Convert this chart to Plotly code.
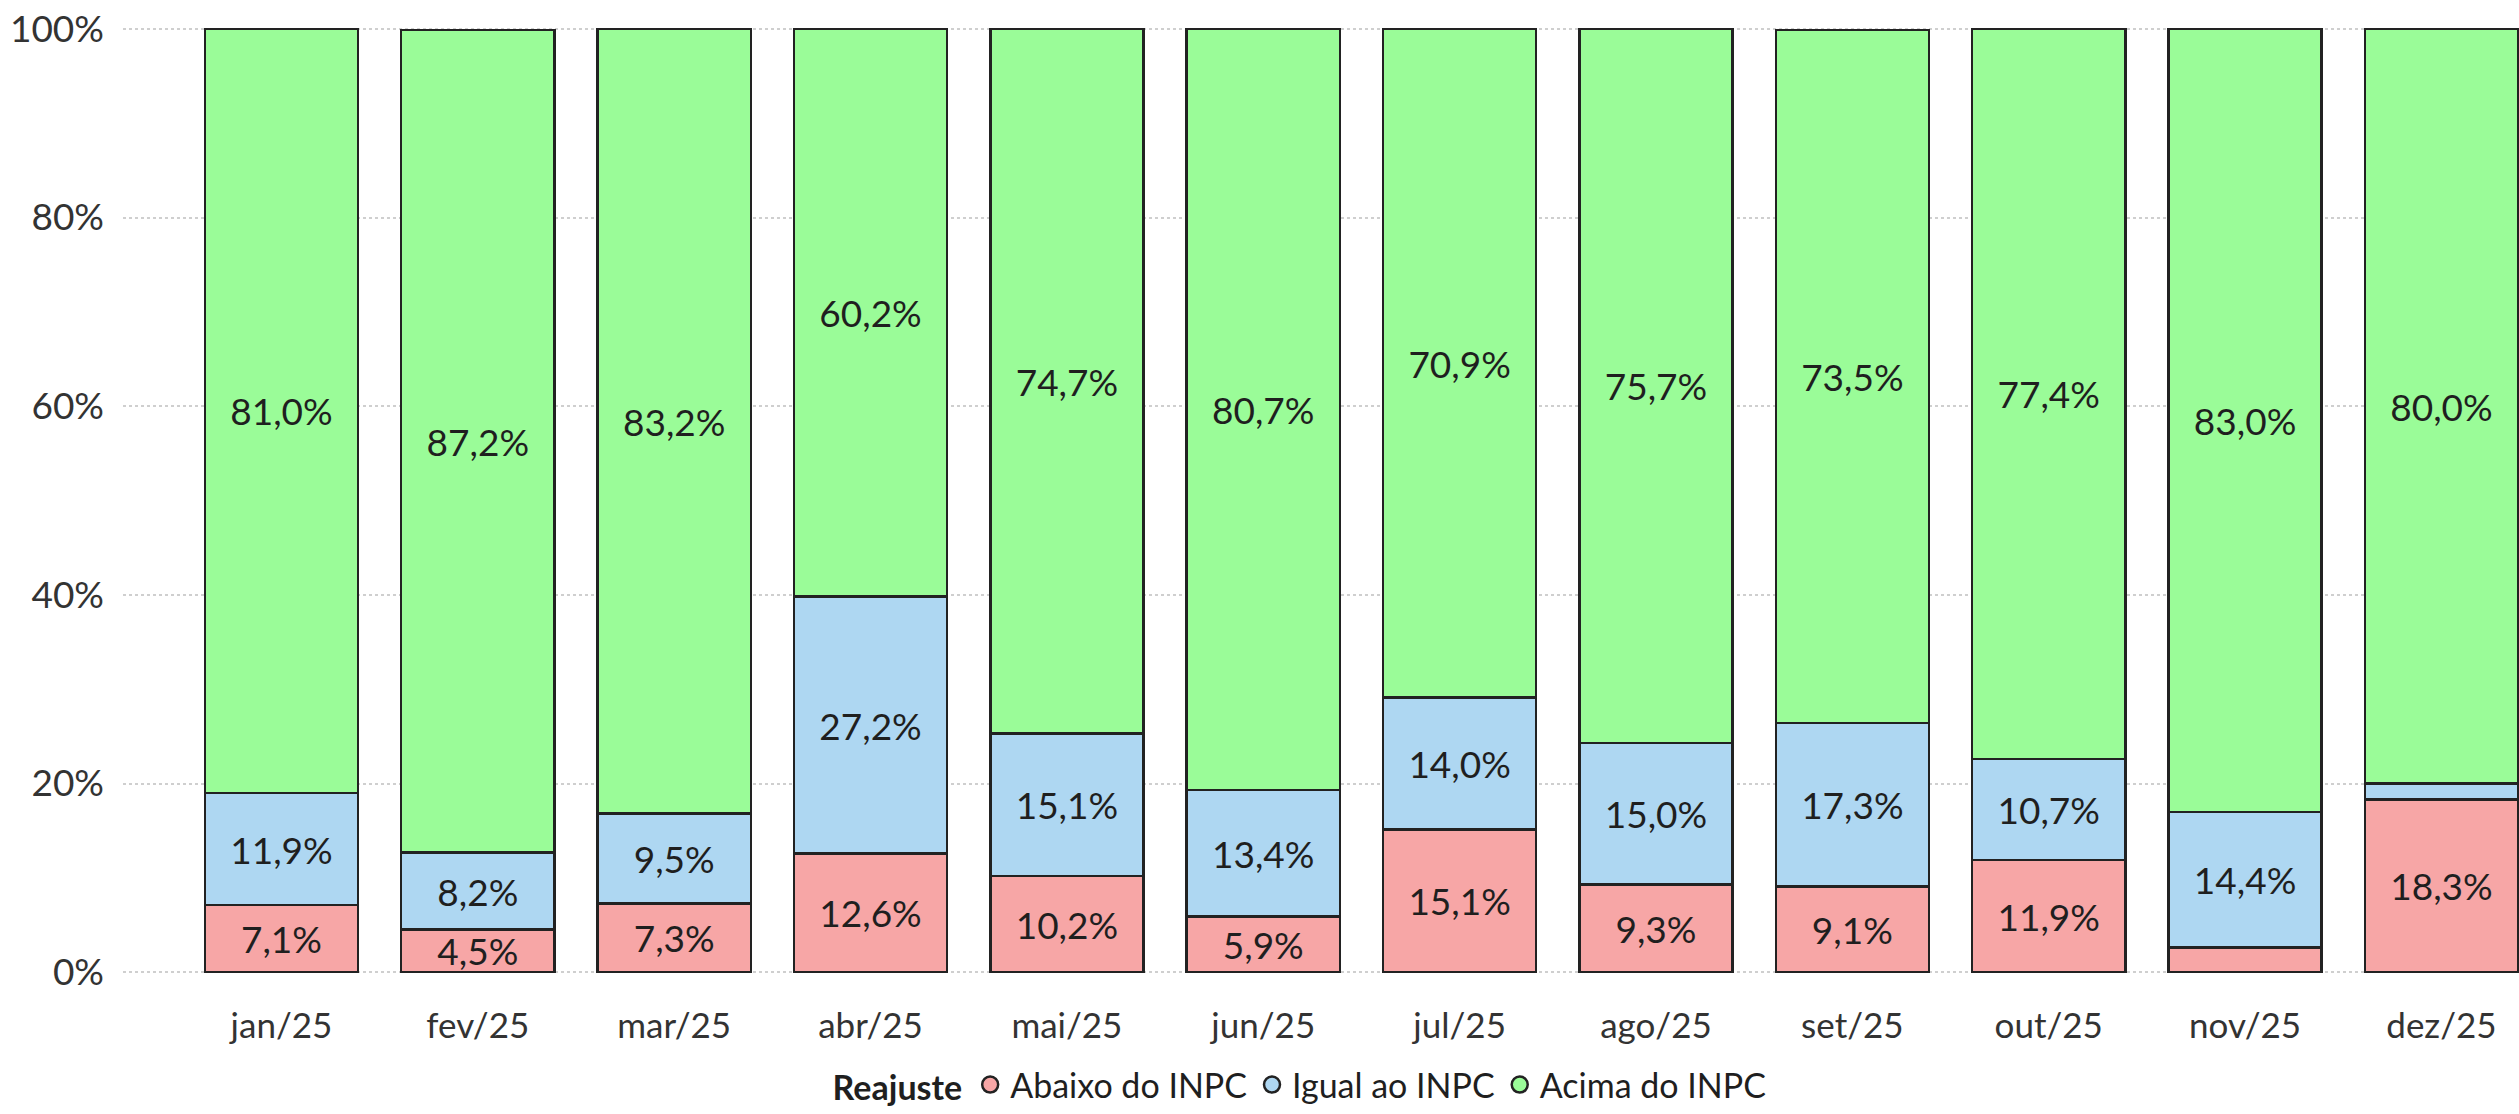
import plotly.graph_objects as go

months = ["jan/25", "fev/25", "mar/25", "abr/25", "mai/25", "jun/25",
          "jul/25", "ago/25", "set/25", "out/25", "nov/25", "dez/25"]
abaixo = [7.1, 4.5, 7.3, 12.6, 10.2, 5.9, 15.1, 9.3, 9.1, 11.9, 2.6, 18.3]
igual = [11.9, 8.2, 9.5, 27.2, 15.1, 13.4, 14.0, 15.0, 17.3, 10.7, 14.4, 1.7]
acima = [81.0, 87.2, 83.2, 60.2, 74.7, 80.7, 70.9, 75.7, 73.5, 77.4, 83.0, 80.0]

series = [
    ("Abaixo do INPC", abaixo, "#F7A6A6"),
    ("Igual ao INPC", igual, "#AED7F2"),
    ("Acima do INPC", acima, "#9AFC98"),
]

FONT = "Lato"
TXT = "#1f1f1f"


def lbl(v):
    return (f"{v:.1f}%".replace(".", ",")) if v >= 3 else ""


fig = go.Figure()
for name, vals, col in series:
    fig.add_trace(go.Bar(
        x=months, y=vals, name=name, showlegend=False,
        marker=dict(color=col, line=dict(color="#222222", width=2.5)),
        text=[lbl(v) for v in vals], textposition="inside",
        insidetextanchor="middle", constraintext="none",
        textfont=dict(family=FONT, size=37, color=TXT),
        hoverinfo="skip",
    ))
for name, vals, col in series:
    fig.add_trace(go.Scatter(
        x=[None], y=[None], mode="markers", name=name,
        marker=dict(symbol="circle", size=16, color=col,
                    line=dict(color="#222222", width=2.5)),
    ))

fig.update_layout(
    barmode="stack", bargap=0.22,
    width=2519, height=1114,
    margin=dict(l=123, r=0, t=26, b=134),
    paper_bgcolor="white", plot_bgcolor="white",
    font=dict(family=FONT, size=34, color="#404040"),
    legend=dict(
        orientation="h", traceorder="normal",
        x=0.4917, xanchor="center", y=-0.116, yanchor="middle",
        title=dict(text="<b>Reajuste</b>", font=dict(family=FONT, size=34, color="#1f1f1f")),
        font=dict(family=FONT, size=34, color="#1f1f1f"),
        itemwidth=30, tracegroupgap=0,
    ),
    xaxis=dict(range=[-0.807, 11.395], showgrid=False, showline=False,
               ticks="", tickfont=dict(family=FONT, size=35, color="#333333"),
               ticklabelstandoff=27),
    yaxis=dict(range=[-0.3, 100.3], tickvals=[0, 20, 40, 60, 80, 100],
               ticktext=["0%", "20%", "40%", "60%", "80%", "100%"],
               showgrid=True, gridcolor="#CFCFCF", griddash="dot", gridwidth=2,
               zeroline=False, showline=False, ticks="",
               tickfont=dict(family=FONT, size=37, color="#333333"),
               ticklabelstandoff=18),
)

fig.write_html(
    "out.html",
    config={"displayModeBar": False},
    post_script="document.body.style.margin='0';document.body.style.overflow='hidden';",
)
